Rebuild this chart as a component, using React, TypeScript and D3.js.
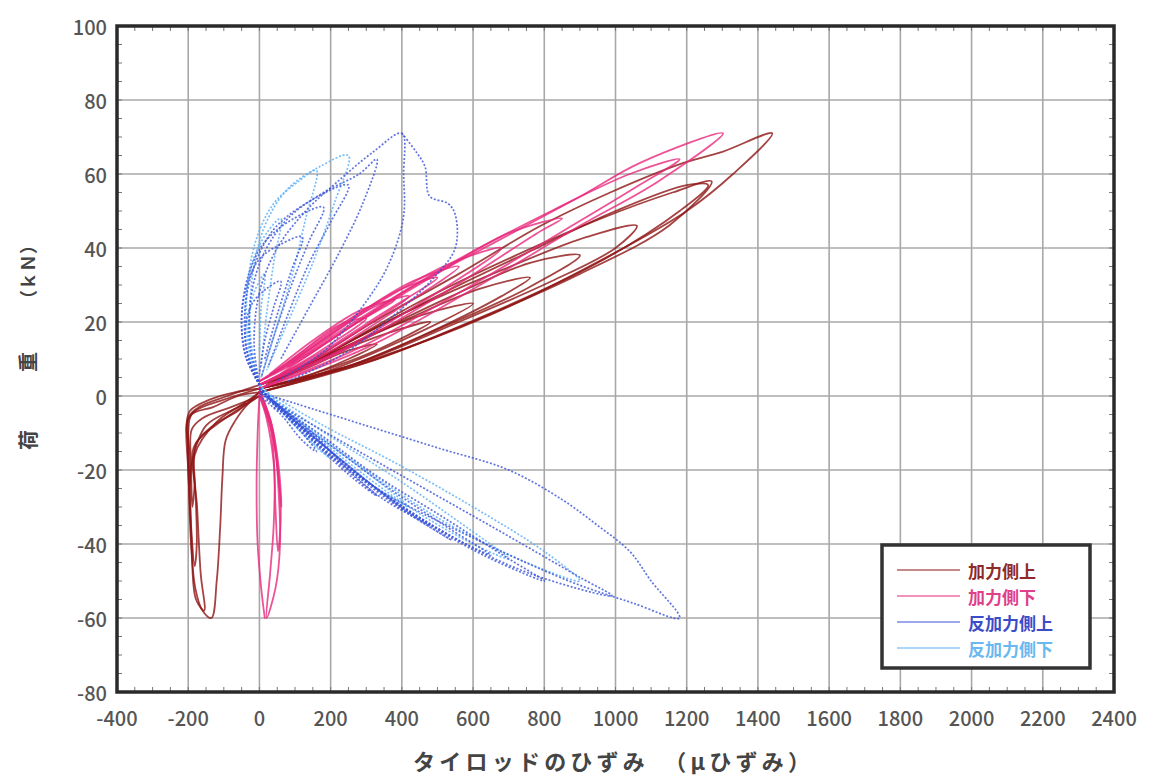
import React from "react";
import * as d3 from "d3";

type Pt = [number, number];

// ---- axis ticks ----
const xTicks = [-400, -200, 0, 200, 400, 600, 800, 1000, 1200, 1400, 1600, 1800, 2000, 2200, 2400];
const yTicks = [-80, -60, -40, -20, 0, 20, 40, 60, 80, 100];

// ---- series names ----
const seriesNames = ["加力側上", "加力側下", "反加力側上", "反加力側下"];

// ---- 加力側上 (loops, x: μ strain, y: kN) ----
const kaUpper: Pt[][] = [
  [[0, 2], [120, 5], [250, 10], [330, 14], [240, 12], [120, 7], [0, 3]],
  [[0, 2], [150, 6], [320, 12], [480, 20], [360, 17], [200, 11], [50, 4]],
  [[0, 1], [200, 7], [400, 15], [600, 25], [460, 22], [280, 15], [100, 7], [0, 3]],
  [[0, 1], [220, 7], [450, 16], [680, 27], [760, 32], [620, 29], [420, 21], [220, 12], [40, 4]],
  [[0, 2], [250, 8], [500, 18], [750, 29], [900, 38], [760, 36], [540, 27], [300, 16], [80, 6]],
  [[0, 2], [280, 9], [560, 20], [820, 31], [1000, 40], [1060, 46], [920, 43], [680, 34], [420, 23], [160, 10], [0, 3]],
  [[0, 2], [300, 9], [620, 21], [900, 33], [1150, 46], [1270, 58], [1160, 55], [960, 48], [720, 38], [460, 26], [200, 12], [20, 3]],
  [[0, 1], [300, 9], [640, 22], [950, 36], [1180, 50], [1260, 57], [1200, 57], [1000, 50], [780, 40], [520, 28], [260, 15], [50, 4]],
  [[0, 2], [320, 10], [650, 22], [985, 38], [1200, 50], [1330, 60], [1440, 71], [1300, 66], [1191, 63], [985, 55], [790, 46], [560, 33], [320, 20], [100, 7], [0, 3]],
  // negative side
  [[0, 1], [-60, 0], [-130, -3], [-190, -5], [-200, -10], [-198, -25], [-192, -40], [-180, -52], [-160, -58], [-135, -60], [-120, -50], [-110, -35], [-104, -22], [-95, -12], [-70, -7], [-30, -2], [0, 0]],
  [[0, 2], [-70, 1], [-140, -1], [-195, -4], [-205, -8], [-200, -20], [-192, -35], [-182, -46], [-176, -40], [-180, -25], [-185, -14], [-130, -8], [-60, -4], [0, 1]],
  [[0, 0], [-80, -3], [-160, -6], [-190, -9], [-192, -18], [-188, -30], [-182, -24], [-178, -13], [-110, -7], [0, 0]],
  [[0, 3], [-90, 0], [-170, -3], [-200, -6], [-196, -16], [-190, -42], [-178, -55], [-155, -58], [-165, -48], [-175, -30], [-182, -16], [-120, -7], [-40, -2]],
  [[0, 2], [-100, -1], [-180, -4], [-203, -7], [-200, -14], [-196, -24], [-190, -18], [-150, -8], [-60, -3], [0, 1]],
];

// ---- 加力側下 ----
const kaLower: Pt[][] = [
  [[0, 3], [100, 8], [200, 14], [300, 21], [220, 19], [120, 12], [20, 5]],
  [[0, 4], [120, 10], [260, 19], [380, 26], [280, 23], [150, 15], [30, 6]],
  [[0, 3], [150, 10], [300, 19], [420, 27], [320, 24], [180, 15], [40, 6]],
  [[0, 3], [160, 11], [340, 22], [500, 32], [400, 29], [240, 20], [80, 9]],
  [[0, 3], [180, 11], [380, 23], [560, 35], [430, 31], [260, 21], [90, 9]],
  [[0, 3], [220, 12], [450, 25], [680, 40], [540, 36], [330, 25], [130, 12], [0, 4]],
  [[0, 2], [250, 13], [520, 28], [780, 44], [850, 48], [700, 44], [480, 32], [260, 19], [60, 6]],
  [[0, 2], [280, 13], [580, 29], [860, 45], [1050, 56], [1180, 64], [1040, 60], [820, 50], [560, 37], [300, 22], [80, 8]],
  [[0, 2], [300, 13], [620, 30], [900, 46], [1120, 58], [1302, 71], [1069, 63], [902, 54], [670, 42], [420, 29], [180, 14], [0, 4]],
  // negative side
  [[0, 2], [25, -5], [45, -15], [55, -28], [58, -40], [45, -52], [20, -60], [30, -48], [40, -35], [42, -20], [30, -8], [0, 0]],
  [[0, 1], [30, -6], [50, -18], [60, -32], [52, -42], [45, -30], [40, -18], [20, -6], [0, 0]],
  [[0, 1], [35, -8], [55, -20], [62, -30], [56, -24], [40, -12], [10, -2]],
  [[0, 0], [-5, -10], [-8, -25], [-5, -40], [5, -52], [15, -60]],
];

// ---- 反加力側上 ----
const hanUpper: Pt[][] = [
  [[0, 3], [-30, 10], [-40, 18], [-20, 25], [20, 29], [60, 31], [40, 24], [15, 15], [0, 6]],
  [[0, 3], [-35, 10], [-50, 20], [-35, 30], [0, 37], [60, 41], [120, 43], [90, 34], [50, 22], [15, 10]],
  [[0, 3], [-40, 11], [-50, 22], [-30, 33], [10, 41], [80, 47], [180, 51], [140, 42], [90, 30], [40, 16], [5, 5]],
  [[0, 3], [-35, 12], [-40, 24], [-15, 35], [40, 45], [130, 52], [250, 57], [200, 47], [140, 36], [80, 22], [25, 8]],
  [[0, 3], [-25, 13], [-25, 26], [10, 38], [80, 48], [180, 55], [280, 60], [330, 64], [290, 52], [220, 38], [140, 24], [60, 10]],
  [[0, 3], [-15, 14], [0, 28], [50, 40], [130, 50], [220, 58], [320, 66], [400, 71], [405, 60], [404, 48], [360, 35], [288, 24], [180, 12], [47, 4]],
  [[400, 71], [440, 66], [465, 62], [478, 54], [530, 52], [550, 49], [550, 40], [490, 32], [380, 22], [230, 11], [80, 4]],
  // negative side
  [[0, 2], [60, -4], [120, -10], [160, -15], [120, -12], [60, -5], [0, 0]],
  [[0, 2], [80, -5], [170, -14], [260, -22], [330, -27], [250, -20], [150, -10], [60, -3], [0, 1]],
  [[0, 2], [100, -7], [220, -18], [350, -28], [480, -35], [380, -29], [240, -18], [110, -8], [0, 1]],
  [[0, 2], [110, -8], [240, -19], [390, -30], [540, -39], [440, -33], [290, -22], [140, -10], [20, 0]],
  [[0, 2], [120, -8], [260, -20], [420, -31], [580, -40], [650, -43], [520, -35], [350, -24], [180, -12], [40, -3]],
  [[0, 2], [140, -10], [300, -23], [480, -35], [650, -44], [800, -50], [700, -44], [520, -33], [320, -21], [150, -9], [20, -1]],
  [[0, 2], [150, -11], [330, -25], [540, -38], [760, -48], [990, -54], [900, -49], [720, -39], [500, -27], [280, -15], [100, -5], [0, 1]],
  [[0, 2], [160, -13], [330, -25], [549, -36], [869, -50], [1050, -56], [1180, -60], [1100, -50], [1040, -42], [950, -35], [850, -28], [700, -20], [500, -14], [300, -8], [100, -2], [0, 1]],
];

// ---- 反加力側下 ----
const hanLower: Pt[][] = [
  [[0, 3], [-25, 10], [-30, 20], [-15, 28], [15, 33], [5, 24], [0, 12]],
  [[0, 3], [-30, 12], [-40, 24], [-20, 36], [20, 44], [60, 48], [40, 36], [20, 22], [5, 8]],
  [[0, 3], [-30, 14], [-35, 28], [-10, 42], [40, 52], [110, 58], [160, 61], [130, 48], [90, 32], [40, 16], [5, 5]],
  [[0, 3], [-25, 16], [-20, 32], [15, 46], [80, 56], [170, 62], [250, 65], [210, 52], [150, 36], [80, 20], [20, 7]],
  // negative side
  [[0, 3], [50, -3], [120, -10], [200, -17], [150, -13], [80, -6], [10, 1]],
  [[0, 3], [80, -5], [200, -15], [330, -25], [420, -30], [320, -22], [180, -12], [60, -3]],
  [[0, 3], [100, -6], [250, -18], [420, -30], [600, -40], [700, -44], [560, -34], [380, -22], [200, -11], [60, -2]],
  [[0, 3], [120, -7], [300, -20], [520, -34], [750, -45], [900, -50], [800, -42], [600, -30], [380, -18], [180, -8], [40, 0]],
];

const seriesData = [kaUpper, kaLower, hanUpper, hanLower];

// ---- styles ----
const colors = ["#8e1414", "#e8287c", "#3a52d8", "#58aef5"];
const textColors = ["#8e2a2a", "#e0408a", "#3a4cc8", "#6ab8f0"];
const dashes = ["", "", "2,1.8", "2,1.8"];
const widths = [1.8, 1.8, 1.7, 1.7];
const drawOrder = [0, 1, 3, 2];

const W = 1153;
const H = 778;
const left = 117, right = 1114, top = 26, bottom = 692;

export default function App() {
  const x = d3.scaleLinear().domain([-400, 2400]).range([left, right]);
  const y = d3.scaleLinear().domain([-80, 100]).range([bottom, top]);
  const line = d3
    .line<Pt>()
    .x((d) => x(d[0]))
    .y((d) => y(d[1]))
    .curve(d3.curveCatmullRom.alpha(0.5));

  const minorX = d3.range(-400, 2401, 50);
  const minorY = d3.range(-80, 101, 5);
  const font = "'Noto Sans CJK JP', 'Noto Sans', sans-serif";

  return (
    <svg
      width={W}
      height={H}
      style={{ position: "absolute", left: 0, top: 0, background: "#fff" }}
      fontFamily={font}
    >
      <rect x={0} y={0} width={W} height={H} fill="#fff" />
      {/* grid */}
      <g stroke="#a8a8a8" strokeWidth={1.6}>
        {xTicks.map((t) => (
          <line key={"gx" + t} x1={x(t)} x2={x(t)} y1={top} y2={bottom} />
        ))}
        {yTicks.map((t) => (
          <line key={"gy" + t} x1={left} x2={right} y1={y(t)} y2={y(t)} />
        ))}
      </g>
      {/* minor ticks */}
      <g stroke="#777" strokeWidth={1}>
        {minorX.map((t) => (
          <g key={"mx" + t}>
            <line x1={x(t)} x2={x(t)} y1={bottom} y2={bottom - 5} />
            <line x1={x(t)} x2={x(t)} y1={top} y2={top + 5} />
          </g>
        ))}
        {minorY.map((t) => (
          <g key={"my" + t}>
            <line x1={left} x2={left + 5} y1={y(t)} y2={y(t)} />
            <line x1={right} x2={right - 5} y1={y(t)} y2={y(t)} />
          </g>
        ))}
      </g>
      {/* data */}
      <g fill="none" strokeLinejoin="round" strokeLinecap="round">
        {drawOrder.map((si) =>
          seriesData[si].map((loop, li) => (
            <path
              key={si + "-" + li}
              d={line(loop) || ""}
              stroke={colors[si]}
              strokeWidth={widths[si]}
              strokeOpacity={0.8}
              strokeDasharray={dashes[si]}
              strokeLinecap={dashes[si] ? "butt" : "round"}
            />
          ))
        )}
      </g>
      {/* frame */}
      <rect
        x={left}
        y={top}
        width={right - left}
        height={bottom - top}
        fill="none"
        stroke="#2a2a2a"
        strokeWidth={3.5}
      />
      {/* y tick labels */}
      <g fill="#555" fontSize={20} fontWeight={500} textAnchor="end">
        {yTicks.map((t) => (
          <text key={"yl" + t} x={left - 10} y={y(t)} dominantBaseline="central">
            {t}
          </text>
        ))}
      </g>
      {/* x tick labels */}
      <g fill="#555" fontSize={20} fontWeight={500} textAnchor="middle">
        {xTicks.map((t) => (
          <text key={"xl" + t} x={x(t)} y={726}>
            {t}
          </text>
        ))}
      </g>
      {/* axis titles */}
      <text
        x={413}
        y={770}
        fontSize={22}
        fontWeight={700}
        fill="#444"
        textLength={397}
        lengthAdjust="spacing"
      >
        タイロッドのひずみ　（μひずみ）
      </text>
      <g fill="#444" fontSize={20} fontWeight={700} textAnchor="middle">
        <text transform={`translate(27,440) rotate(-90)`} dominantBaseline="central">荷</text>
        <text transform={`translate(27,362) rotate(-90)`} dominantBaseline="central">重</text>
        <text transform={`translate(27,272) rotate(-90)`} dominantBaseline="central" fontSize={18}>（ｋＮ）</text>
      </g>
      {/* legend */}
      <g>
        <rect x={882} y={545} width={208} height={123} fill="#fff" stroke="#333" strokeWidth={3.5} />
        {seriesNames.map((name, i) => {
          const ly = 570 + i * 26;
          return (
            <g key={name}>
              <line
                x1={897}
                x2={960}
                y1={ly}
                y2={ly}
                stroke={colors[i]}
                strokeOpacity={0.5}
                strokeWidth={2}
              />
              <text
                x={968}
                y={ly}
                dominantBaseline="central"
                fontSize={17}
                fontWeight={700}
                fill={textColors[i]}
              >
                {name}
              </text>
            </g>
          );
        })}
      </g>
    </svg>
  );
}
